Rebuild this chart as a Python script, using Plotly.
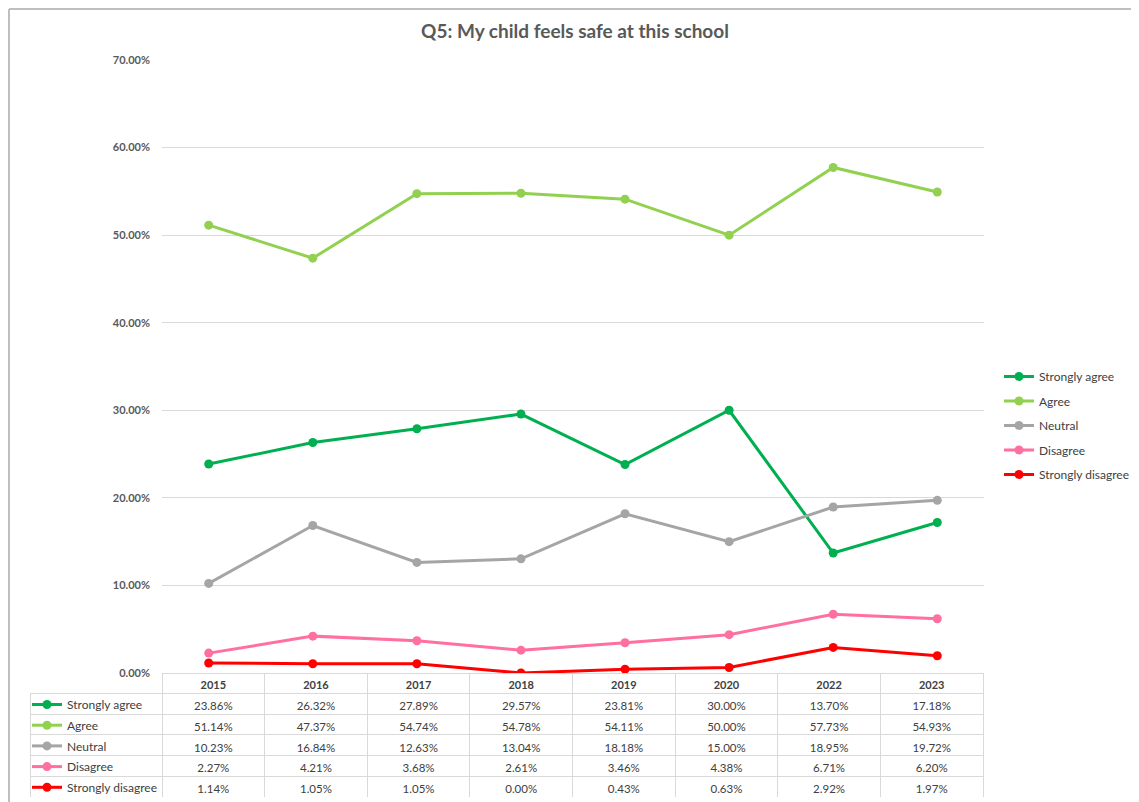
import plotly.graph_objects as go

# values
years = ["2015", "2016", "2017", "2018", "2019", "2020", "2022", "2023"]
strongly_agree = [23.86, 26.32, 27.89, 29.57, 23.81, 30.00, 13.70, 17.18]
agree = [51.14, 47.37, 54.74, 54.78, 54.11, 50.00, 57.73, 54.93]
neutral = [10.23, 16.84, 12.63, 13.04, 18.18, 15.00, 18.95, 19.72]
disagree = [2.27, 4.21, 3.68, 2.61, 3.46, 4.38, 6.71, 6.20]
strongly_disagree = [1.14, 1.05, 1.05, 0.00, 0.43, 0.63, 2.92, 1.97]

names = ["Strongly agree", "Agree", "Neutral", "Disagree", "Strongly disagree"]
series = [strongly_agree, agree, neutral, disagree, strongly_disagree]
colors = ["#00b050", "#92d050", "#a5a5a5", "#ff6f9f", "#ff0000"]

W, H = 1139, 802
# the page body has an 8px margin, so screen position = figure position + 8
OFF = 8
ML, MR, MT, MB = 12, 5, 52, 13
PW, PH = W - ML - MR, H - MT - MB


def px_x(v):
    # screen x (pixels) -> paper fraction
    return (v - OFF - ML) / PW


def px_y(v):
    # screen y (pixels) -> paper fraction
    return (H - MB - (v - OFF)) / PH


FONT = "Lato"
TXT = "#404040"

fig = go.Figure()

for name, vals, col in zip(names, series, colors):
    fig.add_trace(go.Scatter(
        x=years, y=[v / 100 for v in vals], name=name,
        mode="lines+markers", line=dict(color=col, width=3),
        marker=dict(color=col, size=9),
        legend="legend", legendgroup=name,
        hovertemplate=name + " %{x}: %{y:.2%}<extra></extra>",
    ))

# dummy entries: line keys in the table's first column
for name, col in zip(names, colors):
    fig.add_trace(go.Scatter(
        x=[years[0]], y=[None], name=name,
        mode="lines+markers", line=dict(color=col, width=3),
        marker=dict(color=col, size=9),
        legend="legend2", legendgroup=name + "_t", hoverinfo="skip",
    ))

x_dom = [px_x(162), px_x(984)]
y0 = px_y(673)
grid = "#d9d9d9"

# the label column first, so the year table and axes sit on top of it
fig.add_trace(go.Table(
    domain=dict(x=[px_x(30), x_dom[0]], y=[0, y0]),
    header=dict(values=[""], height=20.5, line=dict(color="rgba(0,0,0,0)", width=0),
                fill=dict(color="rgba(0,0,0,0)")),
    cells=dict(values=[[""] * len(names)], height=20.7,
               line=dict(color=grid, width=1), fill=dict(color="white")),
))

# the year columns of the table
fig.add_trace(go.Table(
    domain=dict(x=x_dom, y=[0, y0]),
    columnwidth=[1] * len(years),
    header=dict(values=years, height=20.5, align="center",
                line=dict(color=grid, width=1), fill=dict(color="white"),
                font=dict(family=FONT, size=11, color=TXT, weight="bold")),
    cells=dict(values=[["%.2f%%" % s[i] for s in series] for i in range(len(years))],
               height=20.7, align="center",
               line=dict(color=grid, width=1), fill=dict(color="white"),
               font=dict(family=FONT, size=11.5, color=TXT)),
))

fig.update_layout(
    width=W, height=H,
    margin=dict(l=ML, r=MR, t=MT, b=MB),
    paper_bgcolor="white", plot_bgcolor="white",
    font=dict(family=FONT, size=11, color=TXT),
    title=dict(text="<b>Q5: My child feels safe at this school</b>",
               x=(575 - OFF) / W, xanchor="center",
               y=1 - (31 - OFF) / H, yanchor="middle",
               font=dict(family=FONT, size=19, color="#595959")),
    xaxis=dict(domain=x_dom, showticklabels=False, showgrid=False,
               zeroline=False, showline=False, fixedrange=True),
    yaxis=dict(domain=[y0, 1], range=[0, 0.70], dtick=0.10,
               tickformat=".2%", showgrid=True, gridcolor=grid,
               zeroline=False, showline=False, ticklabelstandoff=11,
               tickfont=dict(family=FONT, size=11, color="#595959", weight="bold")),
    legend=dict(x=px_x(999), y=px_y(362), xanchor="left", yanchor="top",
                traceorder="grouped", tracegroupgap=5.5,
                font=dict(family=FONT, size=12, color=TXT),
                bgcolor="rgba(0,0,0,0)"),
    legend2=dict(x=px_x(27), y=px_y(690), xanchor="left", yanchor="top",
                 traceorder="grouped", tracegroupgap=1.7,
                 font=dict(family=FONT, size=12, color=TXT),
                 bgcolor="rgba(0,0,0,0)"),
    shapes=[
        dict(type="line", xref="paper", yref="paper",
             x0=px_x(9), x1=px_x(9), y0=px_y(9), y1=px_y(H + OFF),
             line=dict(color="#bfbfbf", width=2)),
        dict(type="line", xref="paper", yref="paper",
             x0=px_x(9), x1=px_x(W + OFF), y0=px_y(9), y1=px_y(9),
             line=dict(color="#bfbfbf", width=2)),
    ],
)

fig.write_html("out.html")
